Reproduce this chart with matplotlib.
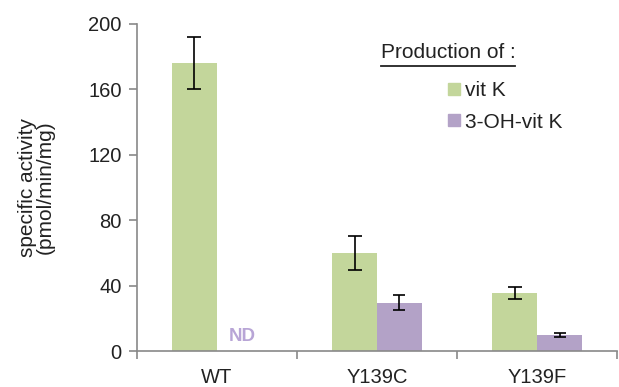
import matplotlib
matplotlib.use("Agg")
import matplotlib.pyplot as plt
from matplotlib.patches import Patch
from matplotlib.lines import Line2D
import numpy as np

plt.rcParams['font.family'] = ['Liberation Sans', 'DejaVu Sans']

categories = ["WT", "Y139C", "Y139F"]
vitk = [176, 60, 35.3]
vitk_err = [16, 10.5, 3.6]
ohvitk = [np.nan, 29.5, 10]
ohvitk_err = [np.nan, 4.7, 1.2]
series_names = ["vit K", "3-OH-vit K"]
yticks = [0, 40, 80, 120, 160, 200]

green = "#c3d69b"
purple = "#b3a2c7"
spine = "#898989"
txt = "#222222"

fig = plt.figure(figsize=(6.19, 3.87), dpi=100)
ax = fig.add_axes([0.221, 0.093, 0.776, 0.845])

x = np.arange(len(categories))
w = 0.28
ax.bar(x - w/2, vitk, w, color=green, yerr=vitk_err, capsize=5,
       error_kw=dict(ecolor="black", elinewidth=1.2, capthick=1.2))
ax.bar(x + w/2, ohvitk, w, color=purple, yerr=ohvitk_err, capsize=4,
       error_kw=dict(ecolor="black", elinewidth=1.2, capthick=1.2))

ax.text(x[0] + w/2 + 0.02, 3.7, "ND", color="#b8a5d6", fontsize=13.5, fontweight="bold",
        ha="center", va="bottom")

ax.set_xlim(-0.5, len(categories) - 0.5)
ax.set_ylim(0, 200)
ax.set_yticks(yticks)
ax.set_xticks(x)
ax.set_xticklabels(categories)
ax.set_xticks(np.arange(-0.5, len(categories)), minor=True)
ax.tick_params(axis="x", which="major", length=0, labelsize=14.5, pad=12, colors=txt)
ax.tick_params(axis="x", which="minor", length=6, color=spine, width=1.2, direction="out")
ax.tick_params(axis="y", length=6, color=spine, width=1.2, labelsize=14.5, pad=5, labelcolor=txt)
for s in ["top", "right"]:
    ax.spines[s].set_visible(False)
for s in ["left", "bottom"]:
    ax.spines[s].set_color(spine)
    ax.spines[s].set_linewidth(1.2)

ax.set_ylabel("specific activity\n(pmol/min/mg)", fontsize=15, color=txt, linespacing=0.92)
ax.yaxis.set_label_coords(-0.171, 0.5)

# legend
t = fig.text(448 / 619, 1 - 53 / 387, "Production of :", fontsize=15, ha="center", va="center", color=txt)
fig.canvas.draw()
bb = t.get_window_extent()
fig.add_artist(Line2D([bb.x0 / 619, bb.x1 / 619], [1 - 66 / 387, 1 - 66 / 387],
                      transform=fig.transFigure, color=txt, lw=1.3))
handles = [Patch(color=green, label=series_names[0]), Patch(color=purple, label=series_names[1])]
leg = fig.legend(handles=handles, loc="upper left", bbox_to_anchor=(438 / 619, 1 - 71 / 387),
                 frameon=False, fontsize=15, handlelength=0.55, handleheight=0.5,
                 handletextpad=0.25, labelspacing=0.58, borderpad=0, labelcolor=txt)

fig.savefig("out.png", dpi=100)
